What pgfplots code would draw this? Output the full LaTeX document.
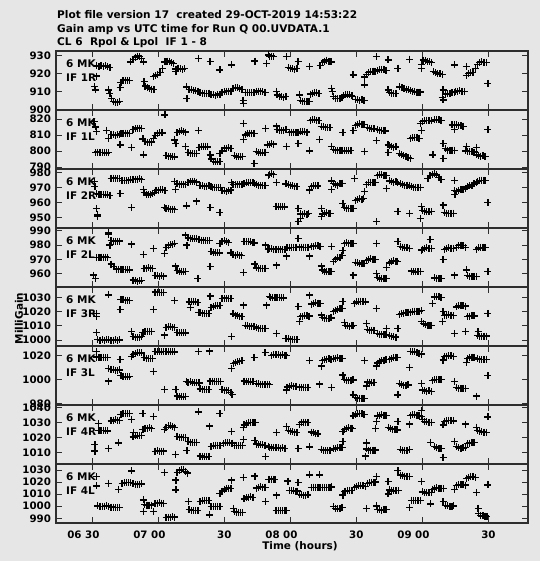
\documentclass[border=0pt]{standalone}
\usepackage{pgfplots}
\pgfplotsset{compat=1.18}
\usepackage{fontspec}
\setmainfont{DejaVu Sans}
\definecolor{bg}{RGB}{230,230,230}
\definecolor{fr}{RGB}{45,45,45}
\pgfplotsset{
  panel/.style={
    scale only axis, width=472bp, height=59bp,
    xmin=13.5, xmax=228,
    axis line style={draw=fr, line width=1.1bp},
    tick style={draw=fr, line width=0.8bp},
    major tick length=6bp,
    tick align=inside,
    xtick={30,60,90,120,150,180,210},
    xticklabels={},
    yticklabel style={font=\bfseries\fontsize{10.3}{12}\selectfont, xshift=-1.5bp},
    /pgf/number format/assume math mode=true,
    /pgf/number format/1000 sep={},
    anchor=south west,
  },
  pts/.style={only marks, mark=+, mark size=3.5bp, mark options={line width=1.3bp, black}, black},
}
\begin{document}
\begin{tikzpicture}
\path[use as bounding box, fill=bg] (0,0) rectangle (540bp,561bp);
% Title
\begin{scope}[every node/.style={anchor=base west, inner sep=0pt, font=\bfseries\fontsize{10.6}{12}\selectfont}]
\node at (57bp,542bp) {Plot file version 17\ \ created 29-OCT-2019 14:53:22};
\node at (57bp,528.5bp) {Gain amp vs UTC time for Run Q 00.UVDATA.1};
\node at (57bp,515.3bp) {CL 6\ \ Rpol \& Lpol\ \ IF 1 - 8};
\end{scope}
% Panel 1 IF 1R
\begin{axis}[panel, at={(56bp,451bp)}, ymin=899.6, ymax=932.6, ytick={900,910,920,930}]
\addplot[pts] coordinates {
(31,912.7)(31.3,910.8)(31.8,918.6)
(32,924.5)(33,924)(34,924.5)(35,924)(36,924.3)(37,923.8)(38,923.5)
(37.3,910.8)(38,909)
(38.8,906)(39.5,904.5)(40.5,904)(41.5,904)(42.5,904.5)
(42.6,912)(43,915)(44,916)(45,916.3)(46,916.2)(47,916)
(47.5,926.5)(48.5,928)(49.5,929.2)(50.5,929.8)(51.5,929.5)(52.5,928.5)(53.2,926.5)
(53.5,915.5)
(54,913)(55,912)(56,911.5)(57,911.3)(58,911)
(57.7,918.5)(58.7,919)(59.7,919.5)(60.8,920.5)(62,922.8)
(63,926.5)(64,927)(65,926.8)(66,926)(67,925.5)
(68,922.5)(69,923)(70,922.8)(71,922.5)(72,922.7)(68,921)
(72.9,912.5)(73,906)
(74,911)(75,910.8)(76,910.5)(77,910.5)(78,910)
(78.2,928.5)
(79,909.2)(80,909)(81,909)(82,908.8)(83,909)
(83.5,926.6)
(84,908.3)(85,908)(86,907.8)(87,908)(88,908.5)
(88,922)
(89,909.5)(90,910)(91,910)(92,910.2)(93,910)
(93.3,924.8)
(94,911.5)(95,912)(96,912)(97,911.8)(98,911)
(98.6,903.4)(98.5,905)
(99.5,909.5)(100.5,909.3)(101.5,909.2)(102.5,909.4)(103.5,909.3)
(103.9,927)
(104.5,910)(105.5,910.2)(106.5,910)(107.5,909.8)(108.5,909.5)
(109.2,925.7)(110,930.4)
(110.5,929.5)(111.5,929.8)(112.5,929.5)
(113.6,910)
(114,908)(115,907)(116,907)(117,906.8)(118,907)
(118.2,929.4)(123.5,926.6)
(119,923.5)(120,923)(121,922.8)(122,922.5)(123,922.8)
(124.2,908)
(124.5,905)(125.5,904.5)(126.5,904.3)(127.5,904.3)(128.5,904.5)
(128.8,923.9)
(129,908.5)(130,909)(131,909.3)(132,909.2)(133,909)
(133.5,924.5)(134.5,926)(135.5,927)(136.5,927.5)(137.5,927)(138.5,926.5)
(138.6,911.8)(139,910)
(139.5,907)(140.5,906)(141.5,906)(142.5,906)(143.5,906.5)
(144,907.5)(145,908)(146,908.2)(147,908)(148,907.5)
(148.5,919.2)
(149.5,905.5)(150.5,905.3)(151.5,905)(152.5,905.2)(153.5,905)
(153.8,918)(153.8,913.6)
(154.5,919.5)(155.5,920.5)(156.5,921)(157.5,921.3)(158.5,921.2)
(159.5,921.5)(160.5,922)(161.5,922.3)(162.5,922)(163.5,921.5)
(159.1,929.4)(164.4,927.6)(164.4,910.8)
(165,909.5)(166,909)(167,908.8)(168,908.7)
(168.9,923)
(169.7,912.5)(170.7,912)(171.7,911.8)(172.7,911.2)(173.7,910.8)
(174.5,910.5)(175.5,910)(176.5,909.8)(177.5,909.6)(178.5,909.5)(179.3,909.6)
(174.2,928)(179.5,925)(179.5,923)
(180.3,927.5)(181.3,927.3)(182.3,926.8)(183.3,926.5)(184.3,926)
(185,921)(186,920.5)(187,920)(188,919.8)(189,919.5)
(189.4,910.8)(189.4,905.2)(189,906.5)
(190.5,908.5)(191.5,908.8)(192.5,909)(193.5,909.3)(194.5,909.5)
(195,910)(196,910.2)(197,910.3)(198,910)(199,909.8)
(194.7,924.8)(200,923.9)
(200,919)(201,920)(202,920.3)(203,920.5)
(204,923)(205,925)(206,926)(207,926.5)(208,926.3)(209,926)
(209.8,914.5)
};
\end{axis}
% Panel 2 IF 1L
\begin{axis}[panel, at={(56bp,392bp)}, ymin=788.75, ymax=825.6, ytick={790,800,810,820}]
\addplot[pts] coordinates {
(30.8,818.3)(31.5,815)(31.8,812)
(31.5,799)(32.5,799.3)(33.5,799)(34.5,799.2)(35.5,799)(36.5,798.8)(37.5,799)
(36.5,813)(37.3,808)
(38.5,810.5)(39.5,810)(40.5,809.8)(41.5,810)(42.3,810.2)
(43,810.8)(44,811)(45,811.2)(46,811)(46.8,811)
(42.6,803.8)(47.8,802.3)
(48.5,813.5)(49.5,814)(50.5,814.3)(51.5,814.2)(52.5,814)
(53.2,797.5)
(53,807.5)(54,806)(55,805.5)(56,805.3)(57,805.6)
(57.7,808)(58.5,809.5)(59.5,811)(60.5,811.5)(61.5,811.5)(62,811.3)
(63,822.5)
(63.5,797)(64.5,796.8)(65.5,796.5)(66.5,796.7)(67.5,796.3)
(67.3,806.9)(68,804.8)
(68.5,811.5)(69.5,812.2)(70.5,812.5)(71.5,812.2)(72.5,811.8)
(72.3,802.7)(78.2,812.7)
(73.5,799)(74.5,798.5)(75.5,798.3)(76.5,798.5)(77.5,798.4)
(78.5,802)(79.5,802.7)(80.5,803)(81.5,802.8)(82.5,802.5)
(83.5,797.5)
(84,795)(85,793.5)(86,793.2)(87,793.3)(88,793.5)
(88,798.5)
(89,800)(90,801.5)(91,801.8)(92,801.9)(93,801.7)
(94.5,797)(95.5,796.5)(96.5,796.3)(97.5,796.5)(98.3,796.4)
(98.6,817.3)(98.6,807.3)
(99.5,810)(100.5,811)(101.5,811.2)(102.5,811)(103.5,811)
(103.5,792.3)
(104.5,799.5)(105.5,799)(106.5,798.8)(107.5,799)(108.5,799.2)
(108.8,814.2)
(109.5,803.8)(110.5,804.2)(111.5,804.4)(112.5,804.3)
(113.6,815.6)
(114,813.5)(115,813)(116,812.8)(117,813)(118,813.2)
(118.2,803)(123.5,804.8)
(119.5,811.5)(120.5,811.8)(121.5,811.6)(122.5,811.5)(123.5,811.3)
(124.5,812)(125.5,812.2)(126.5,812)(127.5,811.8)
(128.8,800)
(129,819)(130,819.5)(131,819.4)(132,819.2)(133,819)
(133.3,807.3)
(134,815.5)(135,815)(136,814.8)(137,814.5)(138,814.5)
(138.6,803)
(139.5,801)(140.5,800.6)(141.5,800.5)(142.5,800.6)(143.5,800.4)
(143.9,811.7)
(144.5,800.2)(145.5,800)(146.5,800)(147.5,800.2)
(148.5,812.7)
(149.5,816)(150.5,816.7)(151.5,817)(152.5,816.8)(153.5,816.5)
(153.8,799.6)
(155,814.5)(156,814.2)(157,814)(158,813.8)
(159.5,813.3)(160.5,813)(161.5,812.8)(162.5,812.7)(163.3,812.5)
(159.1,806.5)(164.4,803.8)(164.4,799.2)
(165,803.5)(166,802.7)(167,802.3)(168,802.5)
(169.5,798.5)(170.5,797.5)(171.5,797)(172.5,796.5)(173.5,796)(174.5,795.5)
(174.5,808)(175.5,808.3)(176.5,808.5)(177.5,808.3)(178.5,808)
(179,817.3)(179.5,813)
(180,818.5)(181,819)(182,819.2)(183,819)(184,818.8)
(184.8,797.5)
(185.5,819.4)(186.5,819.6)(187.5,819.5)(188.5,819.2)
(189.4,795.4)(189.4,804.8)
(190.5,801.5)(191.5,800.6)(192.5,800.3)(193.5,800.5)(194.5,800.5)
(193.5,816.3)(194.5,816.5)(195.5,816.3)(196.5,816)(197.5,815.8)(198.5,815.5)
(194.7,813.5)
(200,803)(204.5,802.3)
(199.5,800)(200.5,799.6)(201.5,799.5)(202.5,799.7)(203.5,799.3)
(204.5,797.5)(205.5,797)(206.5,796.8)(207.5,796.9)(208.5,796.6)
(209.8,813.5)
};
\end{axis}
% Panel 3 IF 2R
\begin{axis}[panel, at={(56bp,333bp)}, ymin=943.1, ymax=982.5, ytick={950,960,970,980}]
\addplot[pts] coordinates {
(31,974)(31.2,971)(31.8,956.2)(32.3,951.8)(32.5,950.7)
(32,966)(33,965.8)(34,965.5)(35,965.3)(36,965.5)(37,965.2)(38,965)
(42.6,966.2)
(38.5,976.2)(39.5,976.4)(40.5,976.3)(41.5,976.1)(42.3,976)
(43.5,974.8)(44.5,974.6)(45.5,974.7)(46.5,974.8)
(47.5,975.2)(48.5,975.6)(49.5,975.8)(50.5,975.7)(51.5,975.9)(52.5,975.6)
(47.9,956.7)
(53.2,968.9)
(53.5,967)(54.5,965.8)(55.5,965.2)(56.5,965.5)(57.5,966.3)(58.3,967)
(59,968.2)(60,968.4)(61,968.6)(62,968.5)(63,968.3)
(62.8,956.7)
(63.5,956)(64.5,955.8)(65.5,955.6)(66.5,955.7)(67.5,955.5)
(67.5,974)(67.8,968.9)
(68.5,972.5)(69.5,972.3)(70.5,972.4)(71.5,972.2)(72.5,972)
(72.8,957.8)
(73.5,973.5)(74.5,974)(75.5,974.4)(76.5,974.3)(77.5,973.8)
(77.5,961.1)
(79,971.5)(80,971.2)(81,971)(82,971)(83,971.2)(84,970.8)
(83.5,956.7)
(84.5,970.3)(85.5,970.2)(86.5,970)(87.5,970.1)(88.3,970)
(88,953.6)
(89,968.2)(90,968)(91,967.8)(92,968)(93,968.4)
(93.3,973.3)
(94,972)(95,972.3)(96,972.2)(97,972.4)(98,972.2)
(99,972.5)(100,973.2)(101,973.6)(102,973.6)(103,973.2)(103.8,972.6)
(104.5,972)(105.5,971.8)(106.5,971.5)(107.5,971.4)(108.5,971.6)
(110,978.4)
(110.5,979)(111.5,979.2)(112.5,979)
(113.6,973.3)
(113.5,957.5)(114.5,957.3)(115.5,957.2)(116.5,957.4)(117.3,957.2)
(118,972.5)(119,972)(120,971.6)(121,971.3)(122,971)(123,970.7)
(123.5,956)(123.5,947.3)(124.5,949.5)
(124.5,952.5)(125.5,952.2)(126.5,952.5)(127.5,952.4)(128.3,952.6)
(128.8,968.4)
(129.5,970.8)(130.5,971.2)(131.5,971.4)(132.5,971.2)
(134.1,956.2)(134.1,950.7)
(134.5,952.5)(135.5,953)(136.5,953.2)(137.5,953)(138.3,952.8)
(138.6,974.5)(138.8,969)
(139.5,972.8)(140.5,972)(141.5,971.8)(142.5,972.6)(143.5,973)
(143.9,959.6)
(144.5,956.8)(145.5,956.2)(146.5,956)(147.5,956.2)(148.5,956)
(149.2,976.2)
(149.5,961.5)(150.5,962.2)(151.5,962.5)(152.5,962.3)(153.3,962.6)
(153.8,967.3)
(154.5,972)(155.5,973.3)(156.5,973.6)(157.5,973.4)(158.5,973.3)
(159.1,947.3)
(159.5,978.2)(160.5,978.6)(161.5,978.7)(162.5,978.4)(163.5,978)
(163.6,969.6)
(165,974.5)(166,974)(167,973.8)(168,973.9)(168.8,973.5)
(168.9,954)
(170,972.5)(171,972)(172,971.6)(173,971.8)(174,971.5)
(174.2,952.9)
(175,970.5)(176,970.2)(177,970)(178,970.1)(179,970.3)
(179.5,957.3)(179,949.6)
(180,955)(181,954.2)(182,954)(183,953.8)(184,954)
(182.5,976)(183.5,978)(184.5,979)(185.5,979.2)(186.5,978.5)(187.5,977)(188.5,975.5)
(189.4,958.4)
(190,953.5)(191,953)(192,952.7)(193,952.8)(194,953)
(194.7,975)(194.7,968)(194.8,965.5)
(195.5,967.5)(196.5,968)(197.5,968.5)(198.5,969)(199.5,969.5)
(200.5,970.5)(201.5,971.2)(202.5,971.8)(203.5,972.5)(204.5,973.2)
(205,974)(206,974.7)(207,975)(208,975)(208.8,974.7)
(209.8,960)
};
\end{axis}
% Panel 4 IF 2L
\begin{axis}[panel, at={(56bp,274bp)}, ymin=950.7, ymax=991.9, ytick={960,970,980,990}]
\addplot[pts] coordinates {
(30.5,959)(31.5,956.7)
(32,971.4)(33,971.2)(34,971.5)(35,971.3)(36,971.6)(37,971.4)
(37.3,988.6)(37.5,987.7)(38,980)
(38.5,983)(39.5,982.8)(40.5,982.5)(41.5,982.6)(42.3,982.8)
(38.5,966.7)(39.8,965)(41,963.2)(42,963)(43,962.7)(44,963)(45,962.8)(46,963)(47,962.6)
(47.9,980.7)
(48.5,955.5)(49.5,955)(50.5,954.8)(51.5,954.9)(52.5,955.2)
(53.2,973.5)
(53.5,963.5)(54.5,963.8)(55.5,964)(56.5,963.7)(57.3,963.5)
(57.7,977.7)
(58.5,958.6)(59.5,958.4)(60.5,958.2)(61.5,958.4)(62.5,958.3)
(62.8,974.2)
(63.5,978.5)(64.5,979.5)(65.5,980.2)(66.5,980.5)(67.5,981)
(67.8,965.3)
(68.5,962)(69.5,961.4)(70.5,961.2)(71.5,961.3)(72.5,961.5)
(72.3,987)(73,980)
(73.5,985)(74.5,984.7)(75.5,984.5)(76.5,984.3)(77.5,984.3)(78.5,984)
(79.5,983.5)(80.5,983.2)(81.5,983)(82.5,983)(83.3,983.2)
(78,956.7)
(84,975.5)(85,974.7)(86,974.5)(87,974.6)(87.8,974.5)
(83.5,964.9)
(88,981)(89,982.3)(90,983)(91,982.8)(92,981.8)
(93,974.5)(94,973.3)(95,973)(96,973.2)(97,973)(97.8,972.8)
(98.6,960.7)
(99,982.5)(100,982.3)(101,982.6)(102,982.3)(103,982)(103.8,981.5)
(103.9,966.7)
(104.5,964)(105.5,963.7)(106.5,963.4)(107.5,963.6)(108.5,963.8)
(108.8,980)(109.9,977)
(110.5,977.5)(111.5,977.3)(112.5,977)(113.5,977)(114.5,977.2)(115.5,977)(116.5,976.8)(117.5,977)
(113.6,966)(118.2,972.3)
(118.5,978)(119.5,978.4)(120.5,978.5)(121.5,978.3)(122.5,978.4)
(123.5,984.7)(128.8,972.3)
(124,978.6)(125,978.5)(126,978.4)(127,978.5)(128,978.3)
(129.5,979)(130.5,979.3)(131.5,979.5)(132.5,979.4)(133.5,979.2)
(134.1,965.3)
(134.5,962.5)(135.5,961.5)(136.5,961.2)(137.5,961.3)(138.5,961.5)
(138.6,978.8)
(139.5,968.5)(140.5,970)(141.5,971)(142.5,971.5)(143.5,972.5)
(143.9,976)
(144.5,981)(145.5,981.5)(146.5,981.3)(147.5,981.2)(148.5,981)
(148.5,959)
(149.5,968)(150.5,967.5)(151.5,967)(152.5,966.8)(153.5,967)
(154.5,969)(155.5,970)(156.5,970.3)(157.5,970.2)(158.5,970)
(159.1,981.2)(159.1,960.2)
(159.5,957.5)(160.5,956.7)(161.5,956.3)(162.5,956.5)(163.5,956.6)
(163.6,964.4)
(165,967.5)(166,968.4)(167,969)(168,968.8)(168.8,968.5)
(168.9,982.3)
(170,979)(171,978.5)(172,978.2)(173,978)(174,977.8)
(175,961.8)(176,961.4)(177,961.2)(178,961.3)(179,961.5)
(179.5,976.5)(183.5,984)
(180,977)(181,977.7)(182,978)(183,977.8)(184,977.5)
(185.5,957)(186.5,956.7)(187.5,956.5)(188.5,956.6)
(189.4,970)
(190,977)(191,977.7)(192,978)(193,977.8)(194,977.6)
(194.7,959)
(195.5,978.5)(196.5,979.5)(197.5,980)(198.5,979.5)(199.5,978.3)
(200,962.6)
(200.5,958.5)(201.5,958)(202.5,957.8)(203.5,958)(204.5,957.9)
(204.5,977)(205.5,978)(206.5,978.4)(207.5,978.5)(208.5,978.2)
(209.8,961.4)
};
\end{axis}
% Panel 5 IF 3R
\begin{axis}[panel, at={(56bp,215bp)}, ymin=995.7, ymax=1037.6, ytick={1000,1010,1020,1030}]
\addplot[pts] coordinates {
(31.8,1005.2)(31.8,1018.9)(32,1016.5)
(32.5,1000.2)(33.5,999.8)(34.5,1000)(35.5,999.7)(36.5,1000.1)(37.5,1000)(38.5,999.6)(39.5,999.8)(40.5,1000)(41.5,999.7)(42.3,1000)
(37.3,1032)(42.6,1021.7)
(43,1028.5)(44,1028.8)(45,1028.3)(46,1028.2)(47,1028)
(47.9,1005.9)
(48.5,1002.5)(49.5,1001.8)(50.5,1001.5)(51.5,1001.8)(52.5,1002.2)
(53,1005.2)(54,1006)(55,1006.2)(56,1006)(57,1005.8)
(57.7,1021.7)
(58.5,1034)(59.5,1033.8)(60.5,1033.5)(61.5,1033.7)(62.5,1033.6)
(62.8,1003.5)
(63.5,1009)(64.5,1009.6)(65.5,1009.4)(66.5,1009)(67.5,1008.8)
(67.5,1027.9)
(68.5,1005.5)(69.5,1005.2)(70.5,1005)(71.5,1005.2)(72.5,1005)
(74,1027)(75,1027.5)(76,1027.3)(77,1027)(78,1026.6)
(74.5,1023.1)
(78.2,1019.4)
(79,1019.5)(80,1019)(81,1018.7)(82,1018.8)(83,1019)
(83.5,1031.2)
(84,1023.2)(85,1024)(86,1024.4)(87,1024.2)(88,1024.3)
(89,1029.5)(90,1029.7)(91,1029.5)(92,1029.4)(93,1029.3)
(93.3,1002.3)
(94,1018.5)(95,1017.7)(96,1017.3)(97,1016.8)(98,1016.5)
(98.6,1024.8)
(99.5,1010.5)(100.5,1010)(101.5,1009.7)(102.5,1009.8)(103.5,1009.5)
(104.5,1008.5)(105.5,1008.3)(106.5,1008)(107.5,1008.2)(108.5,1008.3)
(109.2,1024.8)(110.6,1030.7)
(111,1030.2)(112,1030)(113,1029.8)(114,1030)(115,1030.2)(116,1030)(117,1029.8)
(113.6,1004.7)
(118,1001)(119,1000.7)(120,1000.5)(121,1000.3)(122,1000.4)(123,1000.2)
(123.5,1023.6)(124.2,1013)
(124.5,1016.5)(125.5,1017)(126.5,1017.3)(127.5,1017.2)(128.5,1017)
(128.8,1031.9)
(129.5,1025.5)(130.5,1026)(131.5,1026.3)(132.5,1026.2)(133.5,1025.8)
(134.1,1017.7)
(134.5,1016)(135.5,1015.3)(136.5,1015)(137.5,1015.2)(138.5,1015.6)
(139.5,1020)(140.5,1021)(141.5,1021.7)(142.5,1022.2)(143.5,1022.5)
(143.9,1027.2)(144.7,1012.3)
(145,1010.5)(146,1010)(147,1009.8)(148,1010)(148.8,1010.2)
(149,1026)(150,1027)(151,1027.4)(152,1027.5)(153,1027.2)(154,1027)
(154.5,1011.8)(159.1,1022.4)
(155,1007.5)(156,1007)(157,1006.8)(158,1006.7)
(159.5,1004.8)(160.5,1004.2)(161.5,1004)(162.5,1004.1)(163.5,1004)
(163.6,1008.3)
(165,1003)(166,1002.5)(167,1002.3)(168,1002)
(168.9,1008.3)
(169.5,1018)(170.5,1018.8)(171.5,1019)(172.5,1019.2)(173.5,1019.5)
(174.5,1019.8)(175.5,1020.2)(176.5,1020.4)(177.5,1020.2)(178.5,1020.5)(179.5,1020.8)
(179.5,1013)
(180.5,1011.5)(181.5,1010.8)(182.5,1010.5)(183.5,1010.3)(184.3,1010.2)
(184.5,1026)
(185.5,1030.5)(186.5,1030.8)(187.5,1030.5)(188.5,1030)
(189.4,1020)(189.1,1013)
(190,1017.2)(191,1017.7)(192,1018)(193,1017.7)(194,1017.3)
(194.7,1004.7)
(195.5,1023.5)(196.5,1024.3)(197.5,1024.6)(198.5,1024.3)(199.5,1024)
(199.7,1005.9)
(200.5,1016.5)(201.5,1017)(202.5,1017.3)(203.5,1017.1)
(205.3,1005.9)
(205,1003.3)(206,1002.8)(207,1002.6)(208,1002.5)(209,1002.7)
(209.8,1018.9)
};
\end{axis}
% Panel 6 IF 3L
\begin{axis}[panel, at={(56bp,156bp)}, ymin=978.6, ymax=1027.8, ytick={980,1000,1020}]
\addplot[pts] coordinates {
(31.8,1023)
(32,1018.5)(33,1018.3)(34,1018.2)(35,1018.4)(36,1018)(37,1018.2)
(37.3,1009.2)(37.3,998.6)
(38.5,1008.3)(39.5,1007.8)(40.5,1007.5)(41.5,1007.6)(42.3,1007.8)
(42.6,1016.7)
(43,1003)(44,1002.4)(45,1002.2)(46,1002)(47,1002.1)
(47.9,1018.9)
(48.5,1020.5)(49.5,1021.5)(50.5,1022.2)(51.5,1022.5)(52.5,1022)
(57.7,1006.4)
(53.5,1018)(54.5,1017.5)(55.5,1017.3)(56.5,1017.4)(57.3,1017.2)
(58.5,1023.2)(59.5,1023)(60.5,1022.8)(61.5,1023)(62.5,1023.2)(63.5,1023)(64.5,1022.8)(65.5,1023)(66.5,1023.1)(67.3,1022.8)
(62.8,991.7)(68,991.7)
(68.5,986)(69.5,985.6)(70.5,985.3)(71.5,985.5)(72.5,985.7)
(72.8,998)
(73.5,997.5)(74.5,997.8)(75.5,997.2)(76.5,997)(77.5,997.2)(78.5,997)
(78.2,1023)(83.2,1023.6)
(79,992)(80,991.7)(81,991.5)(82,991.6)(83,991.8)
(83.5,998.5)(84.5,998.2)(85.5,998)(86.5,998.1)(87.5,998.3)(88.3,998)
(89,991.5)(90,991)(91,990.8)(92,990.5)(93,989)(93.5,987.5)
(93.3,1009.2)
(94.3,1013)(95,1014.3)(96,1014.7)(97,1015)(98,1015.5)
(103.5,1018.3)
(99,998.5)(100,998)(101,997.8)(102,997.9)(103,998)
(104.5,996.5)(105.5,996.2)(106.5,996)(107.5,996.1)(108.5,995.9)(109.5,996)(110.5,995.8)
(108.5,1022.2)
(111.5,1020)(112.5,1020.3)(113.5,1020.5)(114.5,1020.3)(115.5,1020.2)(116.5,1020.4)(117.5,1020.2)(118.3,1020)
(118.5,993.5)(119.5,994.4)(120.5,994.6)(121.5,994.4)(122.5,994.2)
(118.2,991)
(124,993.5)(125,993.3)(126,993)(127,993.2)(128,993.4)
(128.8,1015.6)(133.3,996.1)(134.1,1011)
(134.5,1015.5)(135.5,1016.5)(136.5,1016.8)(137.5,1017)(138.5,1016.8)
(139.5,1017.2)(140.5,1017.6)(141.5,1017.8)(142.5,1017.5)(143.5,1017.3)
(138.6,993.3)(143.9,1003.6)
(144.5,1000)(145.5,999.4)(146.5,999.2)(147.5,999.3)(148.5,999.5)
(148.5,987)
(149.5,985)(150.5,984.3)(151.5,984)(152.5,984.2)(153.5,984)
(153.8,1015.6)(154.5,994.4)
(155,997.7)(156,997.3)(157,997)(158,997.2)
(159.1,1011)
(159.5,1013.5)(160.5,1014.8)(161.5,1015.6)(162.5,1016)(163.5,1016.3)
(165,1016.8)(166,1017.5)(167,1018)(168,1018.3)(168.7,1018)
(168.9,987)
(169.5,996.5)(170.5,995.5)(171.5,995.2)(172.5,995)(173.5,995.3)
(174.2,1010)
(174.5,1023.5)(175.5,1023.2)(176.5,1022.8)(177.5,1022.3)(178.5,1021.8)(179.5,1021)
(179.5,996.7)
(180,991)(181,990.5)(182,990.2)(183,990.3)(184,990)
(184.5,999)(185.5,999.7)(186.5,1000)(187.5,999.8)(188.5,999.6)
(189.4,1016.1)
(190,1019)(191,1019.4)(192,1019.6)(193,1019.5)(194,1019.3)
(194.7,998)
(195.5,993)(196.5,992.5)(197.5,992.3)(198.5,992.4)(199.5,992.2)
(200,1013.9)
(200.5,1017.5)(201.5,1018.3)(202.5,1018.5)(203.5,1018.3)
(204.5,986.1)
(205,1017)(206,1016.8)(207,1016.7)(208,1016.5)(209,1016.6)
(209.8,1003)
};
\end{axis}
% Panel 7 IF 4R
\begin{axis}[panel, at={(56bp,97bp)}, ymin=1002.5, ymax=1041.8, ytick={1010,1020,1030,1040}]
\addplot[pts] coordinates {
(31.2,1015.4)(31.2,1011.1)(32.7,1029.6)
(33,1024.8)(34,1024.6)(35,1024.9)(36,1024.7)(37,1024.5)
(37.3,1012.6)(41.8,1016.5)
(38.5,1031.2)(39.5,1031.7)(40.5,1031.9)(41.5,1031.7)(42.3,1031.5)
(43,1035.5)(44,1036)(45,1036.3)(46,1036.2)(47,1036)
(47.9,1032)(48.6,1023.5)
(48.5,1020.5)(49.5,1021.2)(50.5,1021.5)(51.5,1021.6)(52.5,1021.4)
(53,1036)
(53,1025.5)(54,1026.2)(55,1026.4)(56,1026.5)(57,1026.3)
(57.7,1034.3)
(58.5,1011)(59.5,1011.2)(60.5,1011)(61.5,1010.9)(62.5,1011.1)
(62.8,1025.7)
(63.5,1027)(64.5,1028)(65.5,1028.3)(66.5,1027.8)(67.3,1027)
(67.8,1008.9)
(68.5,1021)(69.5,1020.4)(70.5,1020.2)(71.5,1020.3)(72.5,1020.1)
(73,1011.7)
(73.5,1017.5)(74.5,1017)(75.5,1016.8)(76.5,1016.9)(77.5,1017)
(78.2,1037.2)
(79,1007.8)(80,1007.4)(81,1007.2)(82,1007.3)(83,1007.5)
(83.2,1027.8)
(84,1014.2)(85,1014.8)(86,1015)(87,1014.9)(88,1014.8)
(88,1036)
(89.5,1016)(90.5,1016.5)(91.5,1016.7)(92.5,1016.5)(93.5,1016.4)
(93.3,1024.1)
(94.5,1015)(95.5,1014.8)(96.5,1014.6)(97.5,1014.7)(98.3,1014.8)
(98.6,1027)(98.6,1018.7)
(99,1028.5)(100,1029.5)(101,1030)(102,1030.3)(103,1030.2)(104,1030)
(103.9,1018.3)
(104.5,1015.8)(105.5,1015.4)(106.5,1015.2)(107.5,1015.3)(108.5,1015)
(108.8,1007.4)(110,1014.3)
(110.5,1013.8)(111.5,1013.3)(112.5,1013.2)(113.5,1013.4)(114.5,1013.2)(115.5,1013.1)(116.5,1013.3)(117.5,1013)
(113.6,1023.5)(118.2,1027.4)
(119,1025)(120,1024.2)(121,1024)(122,1023.8)(123,1023.5)
(123.5,1012.6)
(124,1029)(125,1030)(126,1030.4)(127,1030.3)(128,1030)
(128.8,1013.9)
(129.5,1023.8)(130.5,1023.2)(131.5,1022.8)(132.5,1022.5)
(134,1012.3)(135,1011.7)(136,1011.4)(137,1011.5)(138,1011.8)
(139.5,1012.5)(140.5,1013)(141.5,1013.3)(142.5,1013.4)(143.5,1013.6)
(143.9,1017.6)(143.9,1024.1)
(144.5,1025.5)(145.5,1026.3)(146.5,1026.5)(147.5,1026.4)(148.3,1026.2)
(148.5,1034.5)(149.5,1035.8)(150.5,1036.2)(151.5,1036.3)(152.5,1036)(153.5,1035.5)
(154.5,1016.5)(154.1,1007.8)
(154.5,1012.5)(155.5,1011.8)(156.5,1011.6)(157.5,1011.7)(158.5,1011.8)
(159.1,1030.7)(158.8,1026.3)
(159.5,1034.5)(160.5,1035)(161.5,1035.3)(162.5,1035.1)(163.5,1034.6)
(164.5,1027)(165.5,1026)(166.5,1025.5)(167.5,1025.3)(168.5,1025.2)
(168.9,1030.7)(174.2,1029.1)
(170,1012)(171,1011.7)(172,1011.3)(173,1011.6)(174,1012)
(174.5,1034.8)(175.5,1035.3)(176.5,1035.5)(177.5,1035)(178.5,1034.5)(179.5,1034)
(179.5,1038.3)
(180,1032)(181,1031)(182,1030.5)(183,1030.3)(184,1030.2)
(183.8,1017)
(185.5,1014)(186.5,1013.3)(187.5,1013)(188.5,1012.8)
(189.4,1006.7)(189.4,1028.5)
(190,1031)(191,1031.3)(192,1031.5)(193,1031.3)(194,1031.2)
(194.7,1017.6)(199.7,1029.1)
(195.5,1014)(196.5,1013.3)(197.5,1013)(198.5,1013.2)(199.5,1013.4)
(200.5,1016)(201.5,1016.4)(202.5,1016.7)(203.5,1016.8)
(204.5,1027)
(205,1024.8)(206,1024.3)(207,1024)(208,1023.8)(209,1023.6)
(209.8,1033.9)
};
\end{axis}
% Panel 8 IF 4L
\begin{axis}[panel, at={(56bp,38bp)}, ymin=986.1, ymax=1035, ytick={990,1000,1010,1020,1030},
  xticklabels={\llap{06\ }30,\llap{07\ }00,30,\llap{08\ }00,30,\llap{09\ }00,30},
  xticklabel style={font=\bfseries\fontsize{10.3}{12}\selectfont, anchor=base, yshift=-15bp}]
\addplot[pts] coordinates {
(31.8,1024.5)(31.8,1016.8)
(32.5,1000.3)(33.5,1000)(34.5,999.8)(35.5,1000)(36.5,1000.2)(37.5,999.8)
(37.3,1019)
(38.5,999.3)(39.5,999)(40.5,998.8)(41.5,999)(42.5,999.1)
(42,1014)
(43.5,1019)(44.5,1019.6)(45.5,1019.8)(46.5,1019.5)(47.5,1019.4)
(47.9,1029.2)
(48.5,1018.8)(49.5,1018.4)(50.5,1018.2)(51.5,1018.3)(52.5,1018.5)
(53.2,1005.2)(53.2,995.6)
(53.8,1001.5)(54.8,1001)(55.8,1000.8)(56.8,1001)
(57.7,995.6)
(58.5,1002)(59.5,1002.5)(60.5,1002.7)(61.5,1002.5)(62.5,1002.3)
(62.8,1027.8)
(63.5,990.8)(64.5,991)(65.5,990.9)(66.5,991.2)(67.5,991)
(68,1021.7)(68,1013.5)
(68.5,1028)(69.5,1029.8)(70.5,1030.5)(71.5,1030.2)(72.5,1029)(73.3,1027.5)
(73.6,1003.8)
(74,997)(75,996.4)(76,996.2)(77,996.3)(78,996.4)
(79,1004)(80,1004.7)(81,1005)(82,1004.8)(83,1004.5)
(83.2,992.8)
(84,999.5)(85,999.7)(86,999.9)(87,999.8)(88,999.6)
(88,1010.7)
(89,1012.5)(90,1014)(91,1014.8)(92,1015)(93,1014.8)
(93.3,1021.7)(94.1,998.3)
(94.5,995.5)(95.5,995)(96.5,994.8)(97.5,994.9)(98.3,995)
(98.6,1023.9)
(99,1006)(100,1007.2)(101,1007.6)(102,1007.8)(103,1007.5)
(103.9,1025)
(104.5,1015)(105.5,1015.7)(106.5,1016)(107.5,1015.9)(108.5,1015.8)
(108.8,1003.8)(110,1022.3)
(110.5,1022.3)(111.5,1022.5)(112.5,1022.3)(113,1022.1)
(113.6,1009.3)
(113.5,996.6)(114.5,996.4)(115.5,996.2)(116.5,996.3)(117.5,996.5)(118.3,996.4)
(118.9,1020.9)(123.5,1019.5)
(119.5,1013.3)(120.5,1013)(121.5,1012.8)(122.5,1012.6)(123.3,1012.5)
(124,1010)(125,1009.4)(126,1009.3)(127,1009.2)(128,1009.4)
(128.8,1025.9)(133.3,1025.9)
(129.5,1015.5)(130.5,1015.8)(131.5,1015.7)(132.5,1015.6)(133.5,1015.7)
(134.5,1015.8)(135.5,1015.6)(136.5,1015.5)(137.5,1015.7)(138.5,1015.9)
(138.6,1016.2)(143.9,1009.3)
(139.5,999.5)(140.5,998.2)(141.5,997.8)(142.5,998)(143.5,999)
(144.7,1012.1)
(145,1012.5)(146,1013)(147,1013.2)(148,1013)
(149,1015.5)(150,1016.5)(151,1016.9)(152,1017)(153,1016.8)(154,1016.6)
(154.5,998.3)
(155,1019)(156,1019.5)(157,1019.8)(158,1019.6)(158.8,1020)
(159.1,1024.5)(159.1,1000.2)
(159.5,997.5)(160.5,997)(161.5,996.8)(162.5,996.9)(163.5,997)
(164.4,1020.4)(164.4,1010.2)
(165,1013.5)(166,1013)(167,1012.7)(168,1012.8)(169,1012.9)
(168.9,1029.4)
(170,1025.8)(171,1025.2)(172,1024.9)(173,1024.8)(174,1024.6)
(174.2,999.1)
(175,1005)(176,1004.7)(177,1004.5)(178,1004.7)(179,1004.8)
(179.5,1020.4)
(180,1011.8)(181,1011.3)(182,1011)(183,1011.2)(184,1011.4)
(183.8,1001.9)
(184.5,1014)(185.5,1014.8)(186.5,1015.2)(187.5,1015)(188.5,1014.7)(189.5,1014.5)
(189.4,1003.8)
(190.5,1000.5)(191.5,1000.2)(192.5,1000)(193.5,1000.1)(194.3,1000.3)
(194.7,1014)
(195.5,1017.2)(196.5,1017.6)(197.5,1017.8)(198.5,1017.7)(199.5,1017.5)
(200,1023)(201,1024)(202,1024.5)(203,1024.3)(204,1023.8)
(204.5,1011.3)(205.3,998.3)
(205.5,994)(206.5,992.5)(207.5,992)(208.5,991.8)(209.3,991.5)
(209.8,1017.6)
};
\end{axis}
% Panel labels
\begin{scope}[every node/.style={anchor=base west, inner sep=0pt, font=\bfseries\fontsize{10.5}{12}\selectfont}]
\foreach \b/\l in {451/1R,392/1L,333/2R,274/2L,215/3R,156/3L,97/4R,38/4L}{
  \node at (66bp,\b bp+42bp) {6 MK};
  \node at (66bp,\b bp+28.5bp) {IF \l};
}
\node at (300bp,11.7bp) [anchor=base] {Time (hours)};
\node at (19bp,242.5bp) [anchor=center, rotate=90] {MilliGain};
\end{scope}
\end{tikzpicture}
\end{document}
